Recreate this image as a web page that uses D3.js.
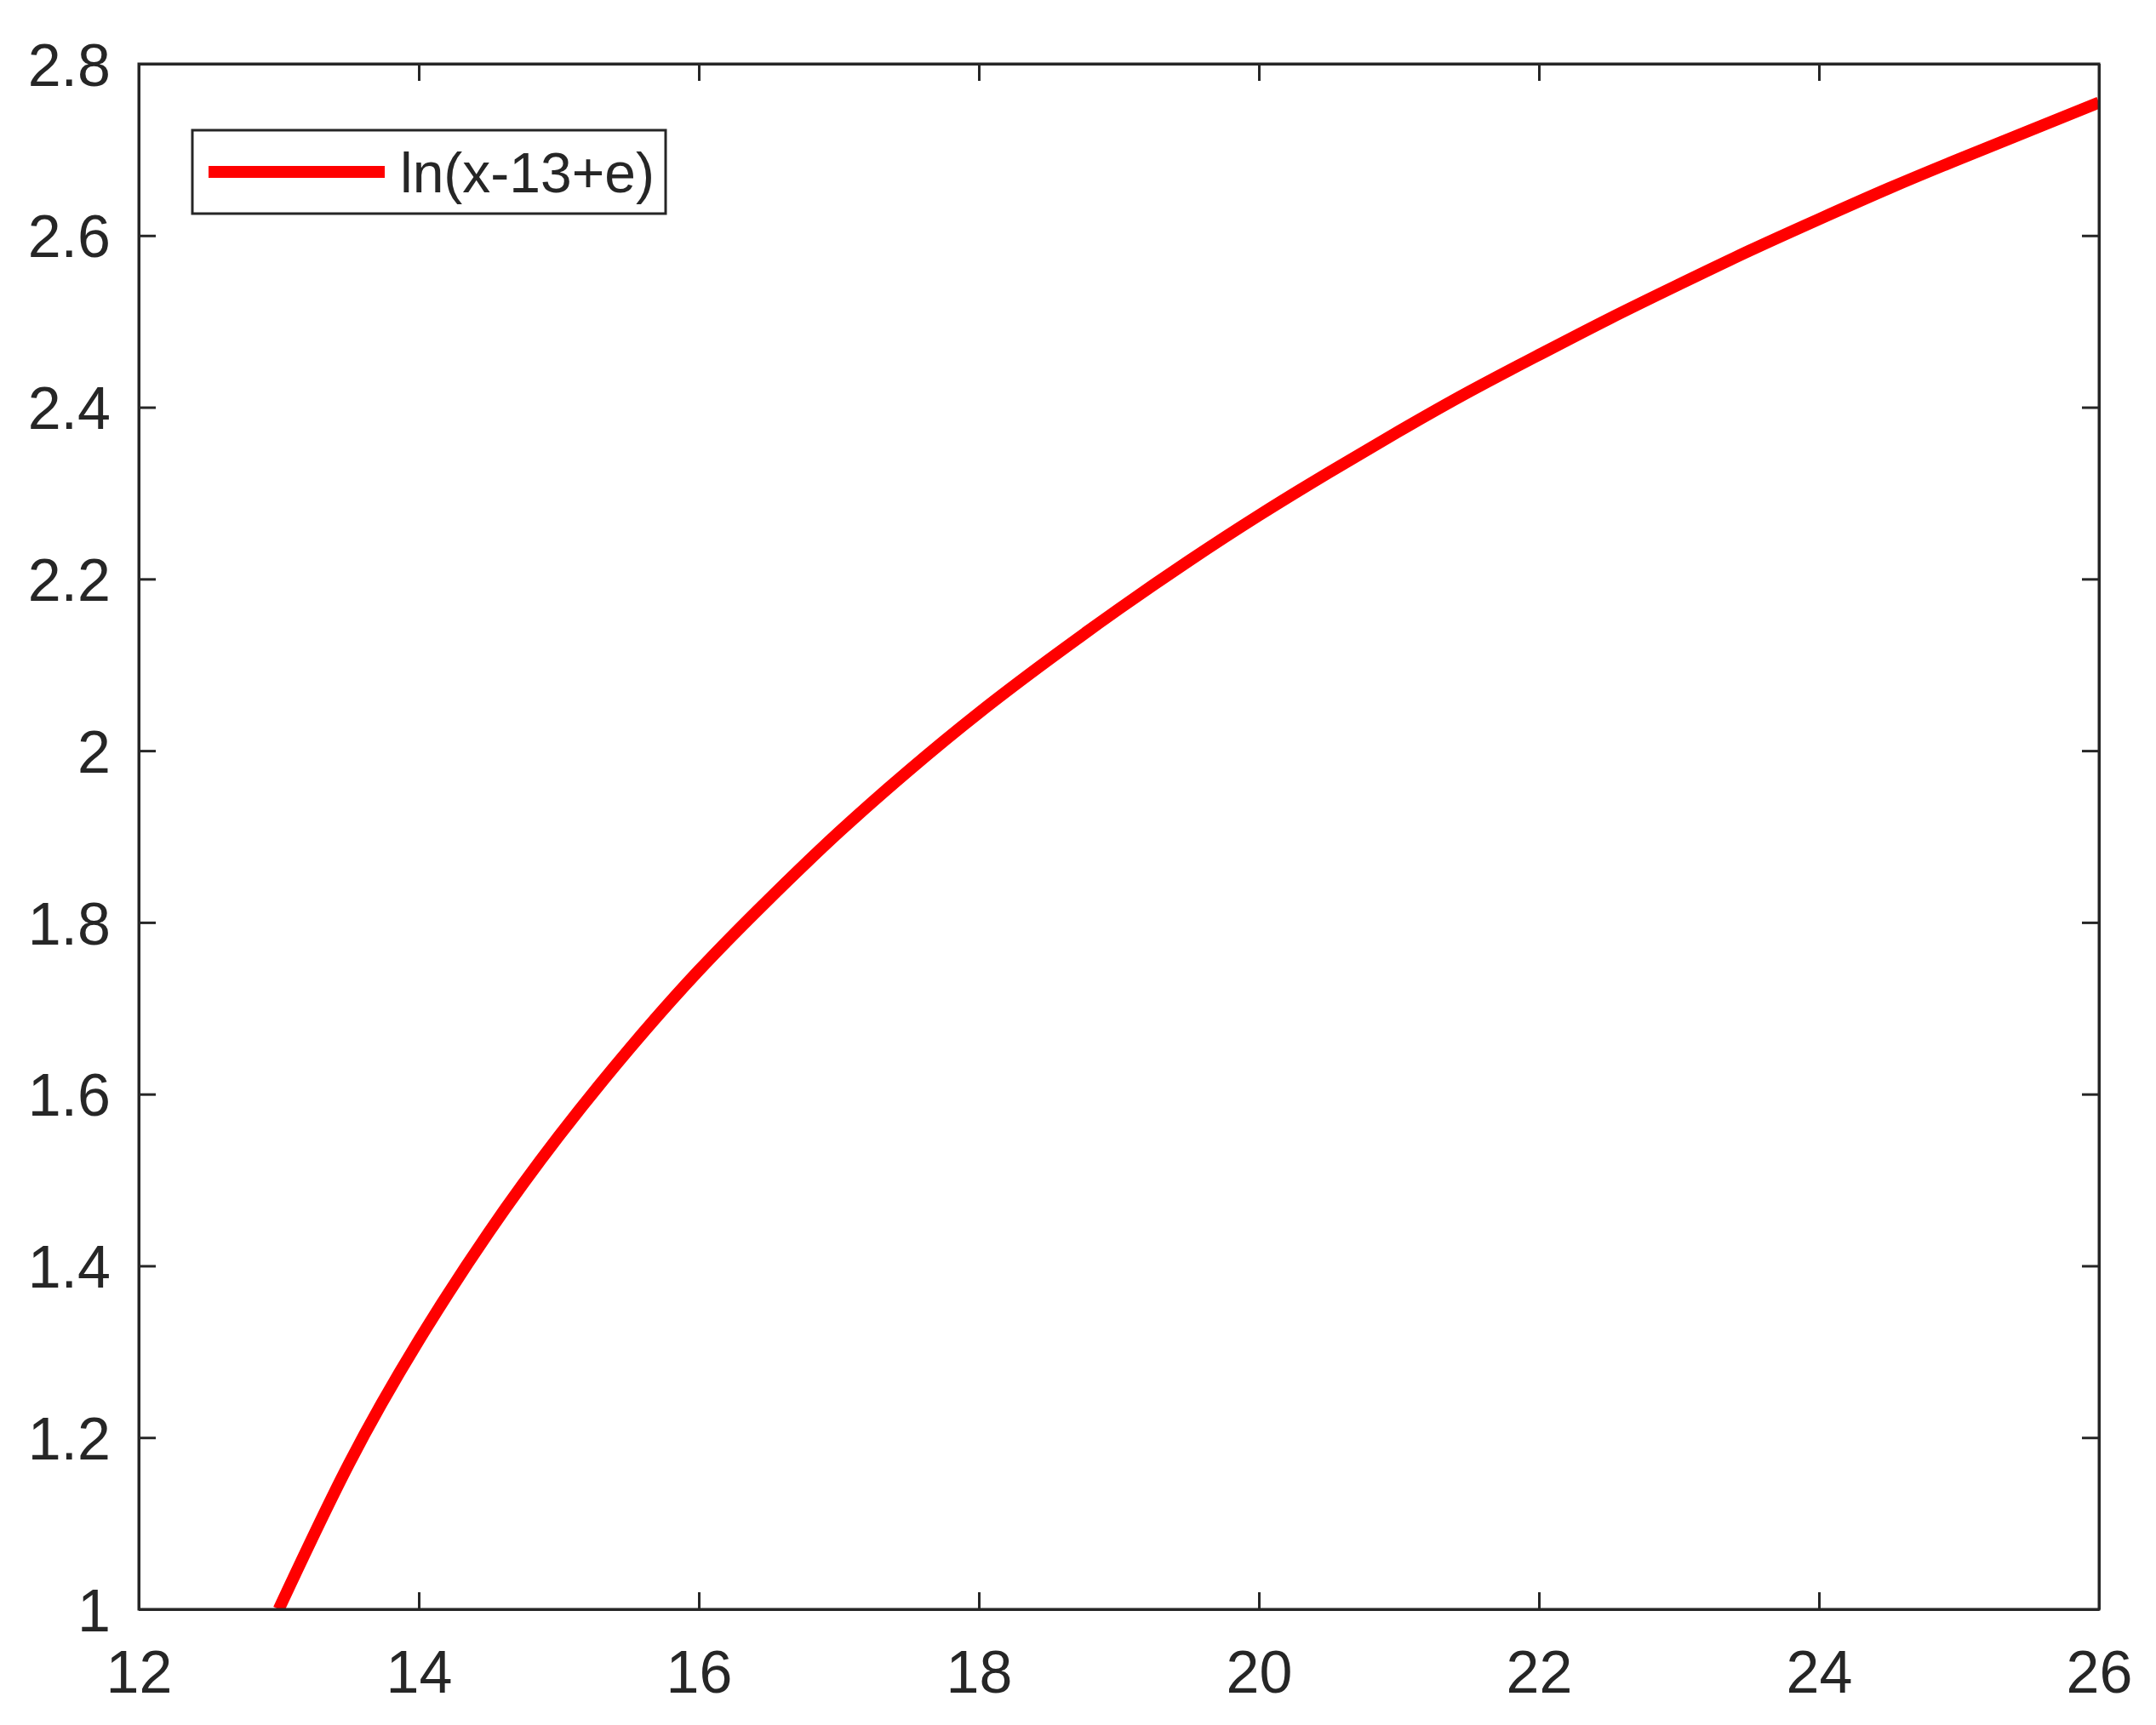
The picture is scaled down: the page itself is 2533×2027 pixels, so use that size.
<!DOCTYPE html>
<html>
<head>
<meta charset="utf-8">
<script src="https://cdn.jsdelivr.net/npm/d3@7"></script>
<style>
  body { margin: 0; background: #fff; }
  text { font-family: "Liberation Sans", Arial, sans-serif; fill: #262626; }
</style>
</head>
<body>
<script>
// values
var xValues = [13, 13.5, 14, 14.5, 15, 15.5, 16, 16.5, 17, 17.5, 18, 18.5, 19, 19.5,
  20, 20.5, 21, 21.5, 22, 22.5, 23, 23.5, 24, 24.5, 25, 25.5, 26];
var yValues = [1.000, 1.169, 1.313, 1.439, 1.551, 1.652, 1.744, 1.827, 1.905, 1.977,
  2.044, 2.106, 2.165, 2.221, 2.274, 2.324, 2.372, 2.418, 2.461, 2.503, 2.543,
  2.582, 2.619, 2.655, 2.689, 2.722, 2.755];
var seriesName = "ln(x-13+e)";

var xTicks = [12, 14, 16, 18, 20, 22, 24, 26];
var yTicks = [1, 1.2, 1.4, 1.6, 1.8, 2, 2.2, 2.4, 2.6, 2.8];
var yTickLabels = ["1", "1.2", "1.4", "1.6", "1.8", "2", "2.2", "2.4", "2.6", "2.8"];

var width = 2533, height = 2027;
//plot box edges (window.top is reserved, so prefixed names)
var boxLeft = 163, boxRight = 2466, boxTop = 75, boxBottom = 1891;
var axisColor = "#262626";

var svg = d3.select("body")
.append("svg")
.attr("width", width)
.attr("height", height);

var xScale = d3.scaleLinear()
.domain([12, 26])
.range([boxLeft, boxRight]);

var yScale = d3.scaleLinear()
.domain([1, 2.8])
.range([boxBottom, boxTop]);

var points = xValues.map(function(x, i) { return [x, yValues[i]]; });

//clip so the thick line doesn't spill past the box
svg.append("defs").append("clipPath")
.attr("id", "plotClip")
.append("rect")
.attr("x", boxLeft)
.attr("y", boxTop)
.attr("width", boxRight - boxLeft)
.attr("height", boxBottom - boxTop);

var line = d3.line()
.x(function(d) { return xScale(d[0]); })
.y(function(d) { return yScale(d[1]); })
.curve(d3.curveNatural);

svg.append("path")
.datum(points)
.attr("clip-path", "url(#plotClip)")
.attr("d", line)
.attr("fill", "none")
.attr("stroke", "#ff0000")
.attr("stroke-width", 14);

//axes: bottom/left with labels, top/right just inward ticks
var tickLen = 20;
var fontSize = 70;

var xAxis = svg.append("g")
.attr("transform", "translate(0," + boxBottom + ")")
.call(d3.axisBottom(xScale).tickValues(xTicks).tickSize(-tickLen).tickPadding(48).tickSizeOuter(0));

var yAxis = svg.append("g")
.attr("transform", "translate(" + boxLeft + ",0)")
.call(d3.axisLeft(yScale).tickValues(yTicks).tickFormat(function(d, i) { return yTickLabels[i]; })
  .tickSize(-tickLen).tickPadding(33).tickSizeOuter(0));

svg.append("g")
.attr("transform", "translate(0," + boxTop + ")")
.call(d3.axisTop(xScale).tickValues(xTicks).tickSize(-tickLen).tickFormat("").tickSizeOuter(0));

svg.append("g")
.attr("transform", "translate(" + boxRight + ",0)")
.call(d3.axisRight(yScale).tickValues(yTicks).tickSize(-tickLen).tickFormat("").tickSizeOuter(0));

svg.selectAll(".domain, .tick line")
.attr("stroke", axisColor)
.attr("stroke-width", 3);

svg.selectAll(".tick text")
.attr("font-size", fontSize)
.attr("font-family", "Liberation Sans, Arial, sans-serif")
.attr("fill", axisColor);

yAxis.selectAll(".tick text").attr("dy", "0.36em");
xAxis.selectAll(".tick text").attr("dy", "0.71em");

//box outline
svg.append("rect")
.attr("x", boxLeft)
.attr("y", boxTop)
.attr("width", boxRight - boxLeft)
.attr("height", boxBottom - boxTop)
.attr("fill", "none")
.attr("stroke", axisColor)
.attr("stroke-width", 3);

//legend
var legend = svg.append("g");

legend.append("rect")
.attr("x", 226)
.attr("y", 153)
.attr("width", 556)
.attr("height", 98)
.attr("fill", "#fff")
.attr("stroke", axisColor)
.attr("stroke-width", 3);

legend.append("line")
.attr("x1", 245)
.attr("x2", 452)
.attr("y1", 202)
.attr("y2", 202)
.attr("stroke", "#ff0000")
.attr("stroke-width", 14);

legend.append("text")
.attr("x", 470)
.attr("y", 202)
.attr("dy", "0.36em")
.attr("font-size", 66)
.text(seriesName);
</script>
</body>
</html>
